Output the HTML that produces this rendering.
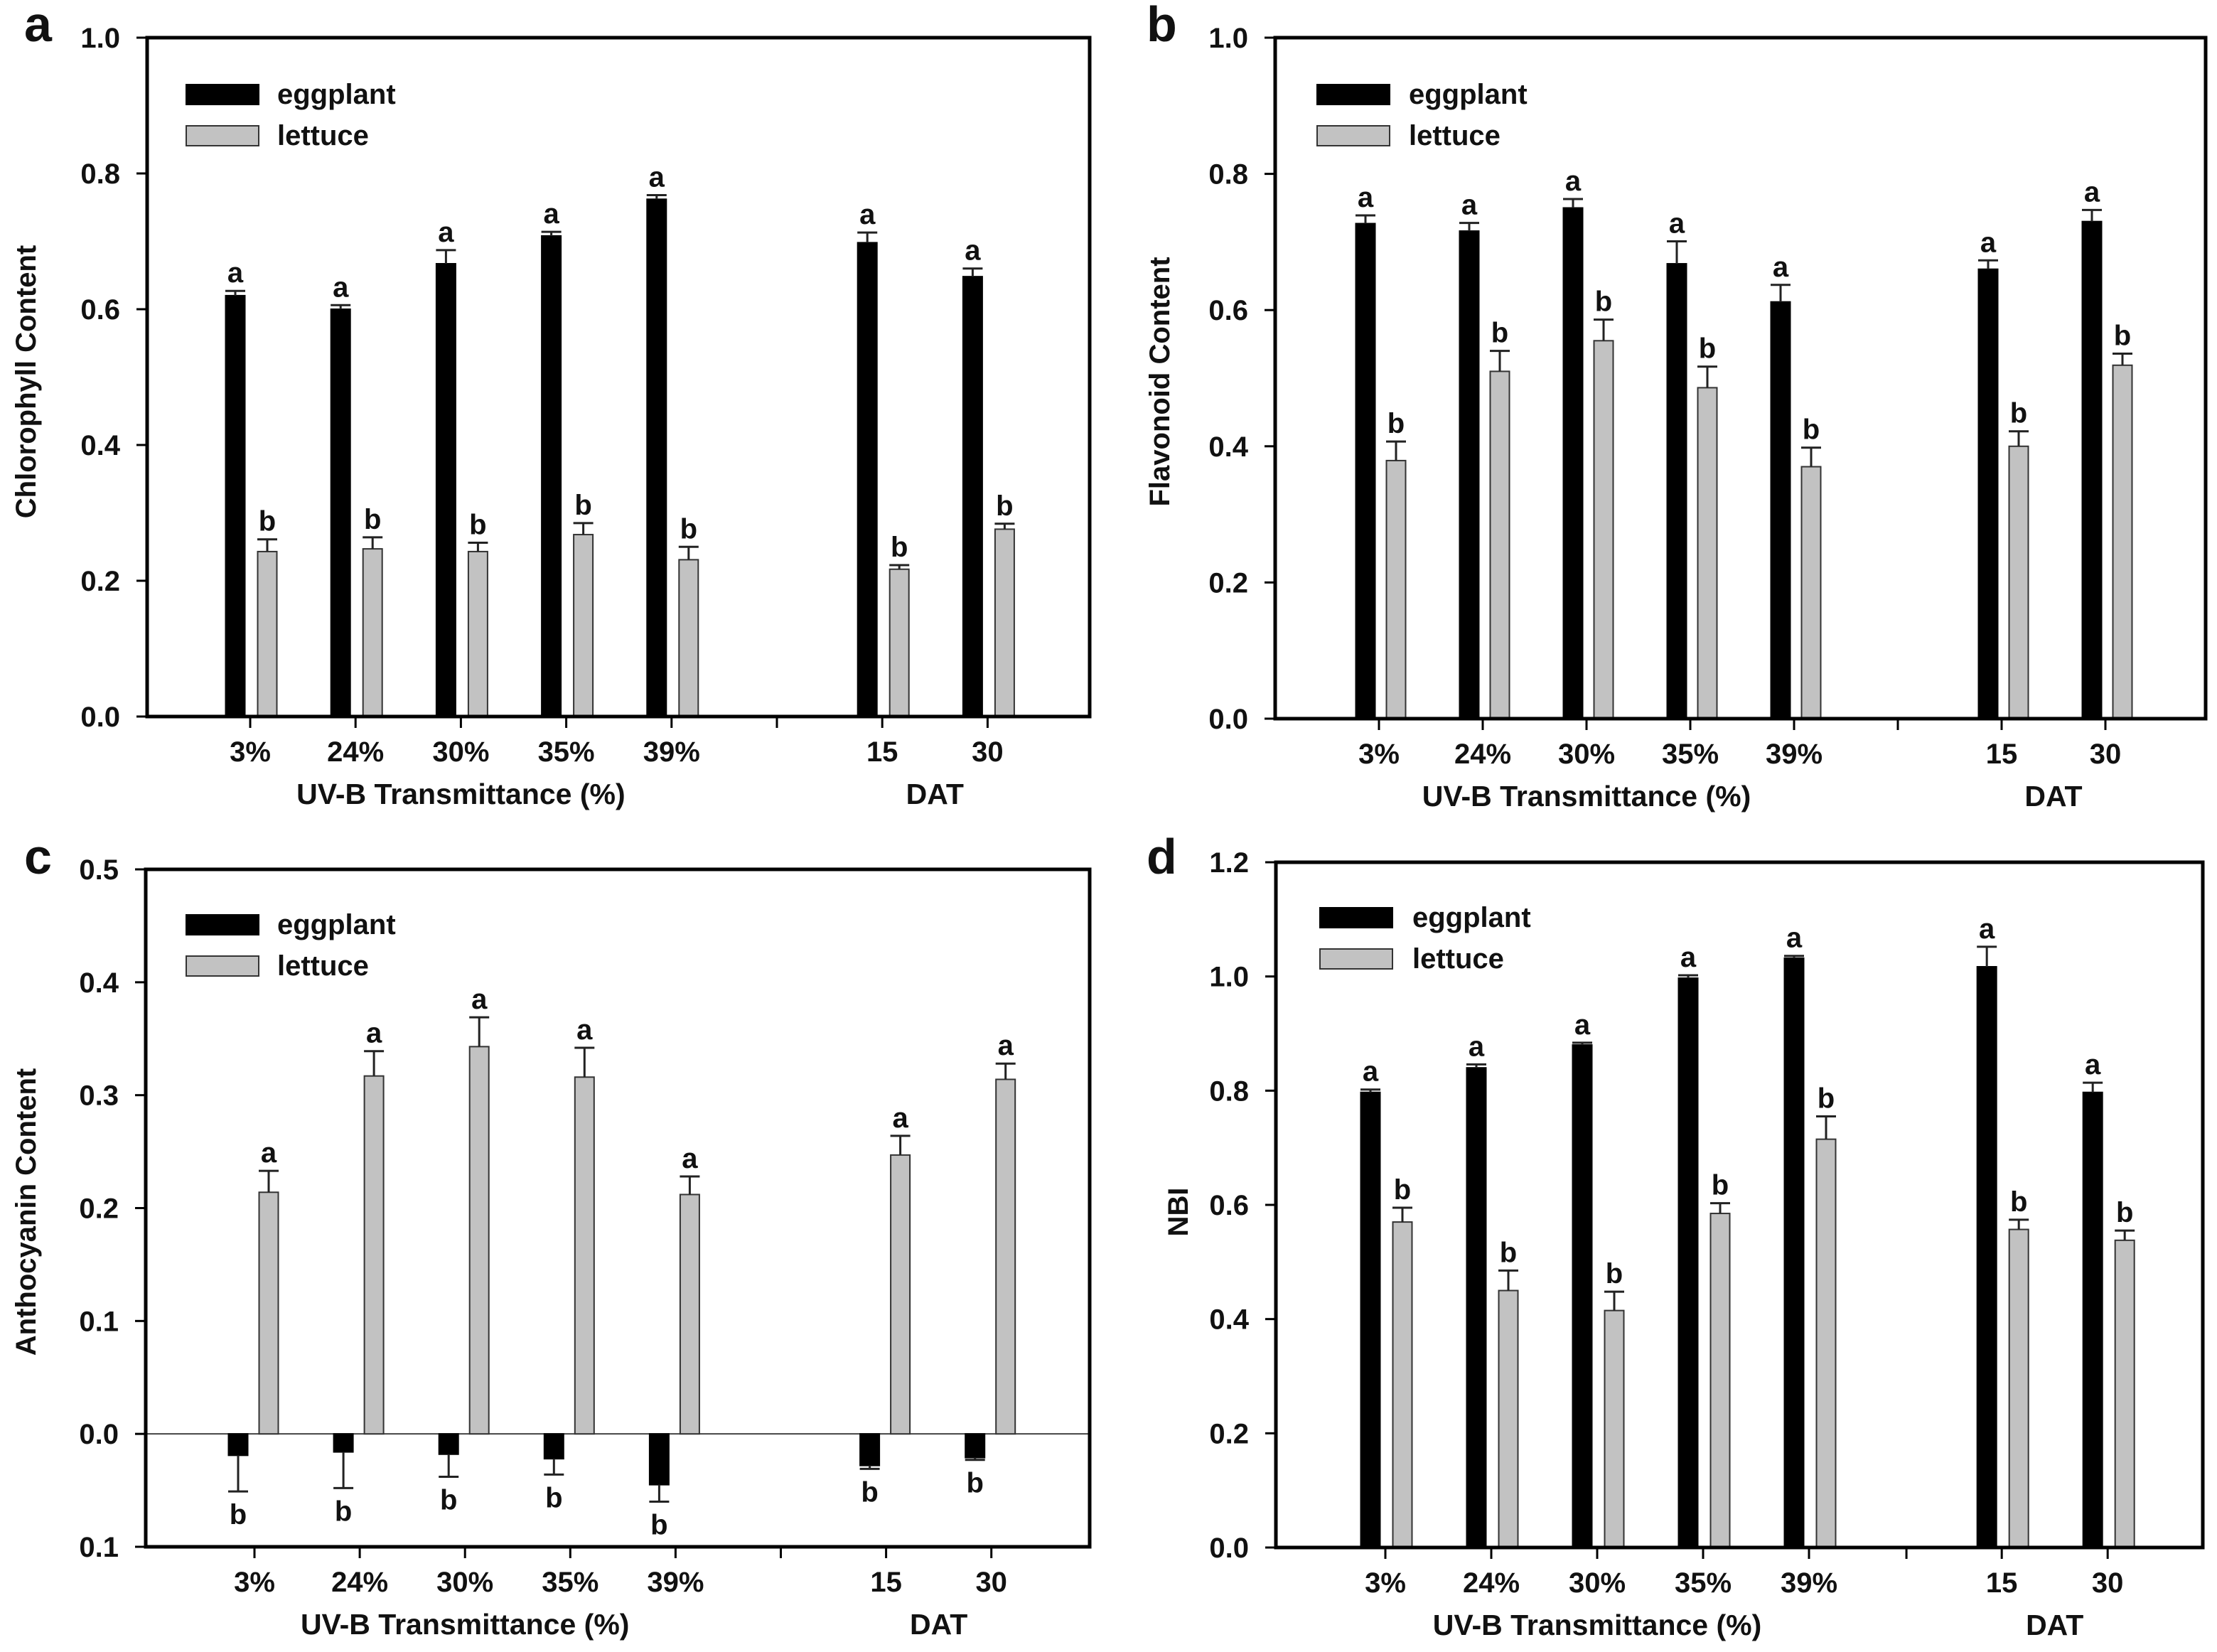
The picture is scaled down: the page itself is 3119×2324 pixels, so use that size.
<!DOCTYPE html>
<html><head><meta charset="utf-8"><style>
html,body{margin:0;padding:0;background:#fff;}
svg{display:block;}
text{font-family:"Liberation Sans",Arial,sans-serif;font-weight:bold;fill:#111;}
</style></head>
<body>
<svg id="fig" width="3119" height="2324" viewBox="0 0 3119 2324" xmlns="http://www.w3.org/2000/svg"></svg>
<script>
// ---- data ----
const xLabelsUV = ["3%","24%","30%","35%","39%"];
const xLabelsDAT = ["15","30"];
const chlEgg = [0.620,0.600,0.667,0.708,0.762,0.698,0.648];
const chlEggErr = [0.007,0.006,0.020,0.006,0.006,0.015,0.012];
const chlLet = [0.243,0.247,0.243,0.268,0.231,0.217,0.276];
const chlLetErr = [0.018,0.017,0.013,0.017,0.019,0.006,0.008];
const flaEgg = [0.727,0.716,0.750,0.668,0.612,0.660,0.730];
const flaEggErr = [0.012,0.012,0.013,0.033,0.025,0.013,0.017];
const flaLet = [0.379,0.510,0.555,0.486,0.370,0.400,0.519];
const flaLetErr = [0.028,0.030,0.031,0.031,0.028,0.022,0.017];
const antEgg = [-0.019,-0.016,-0.018,-0.022,-0.045,-0.028,-0.021];
const antEggErr = [0.032,0.032,0.020,0.014,0.015,0.003,0.002];
const antLet = [0.214,0.317,0.343,0.316,0.212,0.247,0.314];
const antLetErr = [0.019,0.022,0.026,0.026,0.016,0.017,0.014];
const nbiEgg = [0.797,0.840,0.880,0.997,1.032,1.017,0.797];
const nbiEggErr = [0.005,0.006,0.004,0.005,0.004,0.035,0.017];
const nbiLet = [0.570,0.450,0.415,0.585,0.715,0.557,0.538];
const nbiLetErr = [0.025,0.035,0.033,0.018,0.040,0.017,0.017];
const eggLetters = {a:["a","a","a","a","a","a","a"],b:["a","a","a","a","a","a","a"],c:["b","b","b","b","b","b","b"],d:["a","a","a","a","a","a","a"]};
const letLetters = {a:["b","b","b","b","b","b","b"],b:["b","b","b","b","b","b","b"],c:["a","a","a","a","a","a","a"],d:["b","b","b","b","b","b","b"]};
const ticksA = [0,0.2,0.4,0.6,0.8,1.0];
const ticksC = [-0.1,0,0.1,0.2,0.3,0.4,0.5];
const ticksD = [0,0.2,0.4,0.6,0.8,1.0,1.2];

const NS="http://www.w3.org/2000/svg";
const svg=document.getElementById('fig');
function mk(tag,attrs,parent){const e=document.createElementNS(NS,tag);for(const k in attrs)e.setAttribute(k,attrs[k]);(parent||svg).appendChild(e);return e;}

const panels=[
 {id:'a',L:207,R:1533,T:53,B:1008,ymin:0,ymax:1,ticks:ticksA,tx0:352,step:148.2,gap:[5,6,7],eo:-21,lo:24,
  egg:chlEgg,eggE:chlEggErr,let:chlLet,letE:chlLetErr,ytitle:"Chlorophyll Content",ytx:36,yty:537,
  leg:{x:262,y:119,tx:390},lab:{x:34,y:58}},
 {id:'b',L:1794,R:3103,T:53,B:1011,ymin:0,ymax:1,ticks:ticksA,tx0:1940,step:146,gap:[5,6,7],eo:-19,lo:24,
  egg:flaEgg,eggE:flaEggErr,let:flaLet,letE:flaLetErr,ytitle:"Flavonoid Content",ytx:1631,yty:537,
  leg:{x:1853,y:119,tx:1982},lab:{x:1613,y:58}},
 {id:'c',L:205,R:1533,T:1223,B:2176,ymin:-0.1,ymax:0.5,ticks:ticksC,tx0:358,step:148.1,gap:[5,6,7],eo:-23,lo:20,
  egg:antEgg,eggE:antEggErr,let:antLet,letE:antLetErr,ytitle:"Anthocyanin Content",ytx:36,yty:1705,
  leg:{x:262,y:1287,tx:390},lab:{x:34,y:1229}},
 {id:'d',L:1795,R:3099,T:1213,B:2177,ymin:0,ymax:1.2,ticks:ticksD,tx0:1949,step:149,gap:[4.92,5.82,6.82],eo:-21,lo:24,
  egg:nbiEgg,eggE:nbiEggErr,let:nbiLet,letE:nbiLetErr,ytitle:"NBI",ytx:1657,yty:1705,
  leg:{x:1857,y:1277,tx:1987},lab:{x:1613,y:1229}}
];

panels.forEach(p=>{
  const g=mk('g',{});
  
  
  const y=v=>p.B-(v-p.ymin)/(p.ymax-p.ymin)*(p.B-p.T);
  const xi=i=>{let idx=i<5?i:p.gap[i-4];return p.tx0+idx*p.step;};
  const sepX=p.tx0+p.gap[0]*p.step;
  // panel letter
  const pl=mk('text',{x:p.lab.x,y:p.lab.y,'font-size':70},g);pl.textContent=p.id;
  
  
  // zero line (c)
  if(p.ymin<0){const zl=mk('line',{x1:p.L,x2:p.R,y1:y(0),y2:y(0),stroke:'#444','stroke-width':2},g);
    }
  // bars
  const n=p.egg.length;
  for(let i=0;i<n;i++){
    const cx=xi(i);
    [[p.egg,p.eggE,p.eo,'#000','#000',eggLetters[p.id],'eggplant'],[p.let,p.letE,p.lo,'#c2c2c2','#333',letLetters[p.id],'lettuce']].forEach(s=>{
      const v=s[0][i],e=s[1][i],bx=cx+s[2],w=27;
      const y0=y(0),y1=y(v);
      const r=mk('rect',{x:bx-w/2,y:Math.min(y0,y1),width:w,height:Math.abs(y0-y1),fill:s[3],stroke:s[4],'stroke-width':2},g);
      
      
      const sign=v>=0?1:-1;
      const ye=y(v+sign*e);
      const el=mk('path',{d:`M${bx},${y1}V${ye}M${bx-14},${ye}H${bx+14}`,stroke:'#222','stroke-width':3,fill:'none'},g);
      
      
      const t=mk('text',{x:bx,y:sign>0?ye-12:ye+46,'font-size':40,'text-anchor':'middle'},g);
      t.textContent=s[5][i];
      
      
    });
  }
  // frame
  const fr=mk('rect',{x:p.L,y:p.T,width:p.R-p.L,height:p.B-p.T,fill:'none',stroke:'#000','stroke-width':5},g);
  
  // y ticks
  p.ticks.forEach(v=>{
    mk('line',{x1:p.L-15,x2:p.L,y1:y(v),y2:y(v),stroke:'#000','stroke-width':3},g);
    const t=mk('text',{x:p.L-38,y:y(v)+14,'font-size':40,'text-anchor':'end'},g);
    t.textContent=Math.abs(v).toFixed(1);
    
    
  });
  // x ticks
  const labels=xLabelsUV.concat(xLabelsDAT);
  labels.forEach((lb,i)=>{
    const x=xi(i);
    mk('line',{x1:x,x2:x,y1:p.B,y2:p.B+16,stroke:'#000','stroke-width':3},g);
    const t=mk('text',{x:x,y:p.B+63,'font-size':40,'text-anchor':'middle'},g);
    t.textContent=lb;
    
    
  });
  mk('line',{x1:sepX,x2:sepX,y1:p.B,y2:p.B+16,stroke:'#000','stroke-width':3},g);
  // x titles
  const t1=mk('text',{x:(xi(0)+xi(4))/2,y:p.B+123,'font-size':41,'text-anchor':'middle'},g);
  t1.textContent="UV-B Transmittance (%)";
  
  const t2=mk('text',{x:(xi(5)+xi(6))/2,y:p.B+123,'font-size':41,'text-anchor':'middle'},g);
  t2.textContent="DAT";
  
  // y title
  const yt=mk('text',{x:0,y:0,'font-size':40,'text-anchor':'middle',transform:`translate(${p.ytx+14},${p.yty}) rotate(-90)`},g);
  yt.textContent=p.ytitle;
  
  // legend
  const lg=mk('g',{},g);
  
  [['eggplant','#000','#000',0],['lettuce','#c2c2c2','#333',58]].forEach(s=>{
    const r=mk('rect',{x:p.leg.x,y:p.leg.y+s[3],width:102,height:28,fill:s[1],stroke:s[2],'stroke-width':2},lg);
    
    const t=mk('text',{x:p.leg.tx,y:p.leg.y+s[3]+27,'font-size':40},lg);
    t.textContent=s[0];
    
  });
});
</script>
</body></html>
